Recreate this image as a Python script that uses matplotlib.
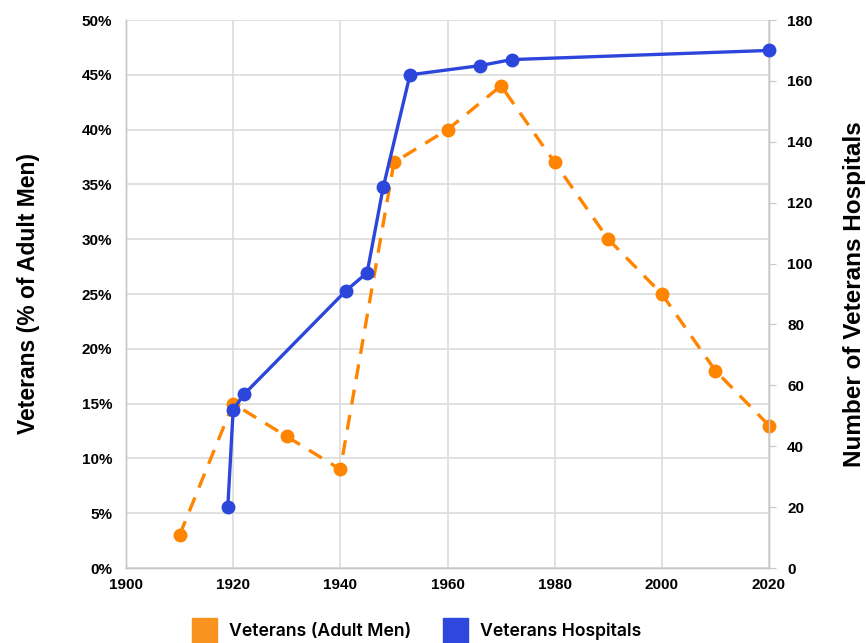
import matplotlib
matplotlib.use("Agg")
import matplotlib.pyplot as plt
from matplotlib.lines import Line2D
from matplotlib.ticker import FuncFormatter

# Data
vet_years = [1910, 1920, 1930, 1940, 1950, 1960, 1970, 1980, 1990, 2000, 2010, 2020]
vet_pct = [3, 15, 12, 9, 37, 40, 44, 37, 30, 25, 18, 13]

hosp_years = [1919, 1920, 1922, 1941, 1945, 1948, 1953, 1966, 1972, 2020]
hosp_count = [20, 52, 57, 91, 97, 125, 162, 165, 167, 170]

x_ticks = [1900, 1920, 1940, 1960, 1980, 2000, 2020]
left_ticks = [0, 5, 10, 15, 20, 25, 30, 35, 40, 45, 50]
right_ticks = [0, 20, 40, 60, 80, 100, 120, 140, 160, 180]

ORANGE = "#FF8500"
BLUE = "#2C46DC"
LEG_ORANGE = "#F7931E"
LEG_BLUE = "#2E48DD"
GRID = "#DCDCDC"
SPINE = "#C8C8C8"

plt.rcParams["font.family"] = ["Liberation Sans", "DejaVu Sans"]

fig = plt.figure(figsize=(8.66, 6.43), dpi=100)
ax = fig.add_axes([126/866, 1-568/643, (769-126)/866, (568-20)/643])
ax2 = ax.twinx()

ax.set_xlim(1900, 2020)
ax.set_ylim(0, 50)
ax2.set_ylim(0, 180)

ax.set_xticks(x_ticks)
ax.set_yticks(left_ticks)
ax2.set_yticks(right_ticks)
ax.yaxis.set_major_formatter(FuncFormatter(lambda v, p: f"{int(v)}%"))

ax.grid(True, color=GRID, linewidth=1.2)
ax.set_axisbelow(True)

for a in (ax, ax2):
    for s in ("left", "right", "bottom"):
        a.spines[s].set_color(SPINE)
        a.spines[s].set_linewidth(1.0)
    a.spines["top"].set_visible(False)

ax.tick_params(axis="y", length=0, pad=10, labelsize=11)
ax.tick_params(axis="x", length=0, pad=7, labelsize=11)
ax2.tick_params(axis="y", length=5, color=SPINE, pad=8, labelsize=11)
for lab in ax.get_xticklabels() + ax.get_yticklabels() + ax2.get_yticklabels():
    lab.set_fontweight("bold")

ax.plot(vet_years, vet_pct, color=ORANGE, linewidth=2.4, dashes=(4.5, 3.2),
        marker="o", markersize=9, zorder=3, clip_on=False)
ax2.plot(hosp_years, hosp_count, color=BLUE, linewidth=2.4,
         marker="o", markersize=9, zorder=4, clip_on=False)

ax.set_ylabel("Veterans (% of Adult Men)", fontsize=16.5, fontweight="bold", labelpad=30)
ax2.set_ylabel("Number of Veterans Hospitals", fontsize=17.5, fontweight="bold", labelpad=22)

handles = [
    Line2D([], [], linestyle="none", marker="s", markersize=18, color=LEG_ORANGE),
    Line2D([], [], linestyle="none", marker="s", markersize=18, color=LEG_BLUE),
]
fig.legend(handles, ["Veterans (Adult Men)", "Veterans Hospitals"], loc="center",
           bbox_to_anchor=(0.482, 0.018), ncol=2, frameon=False,
           prop={"family": ["Inter", "DejaVu Sans"], "size": 12.7, "weight": "semibold"},
           handletextpad=0.8, columnspacing=1.9, handlelength=1.2)

fig.savefig("out.png", dpi=100)
